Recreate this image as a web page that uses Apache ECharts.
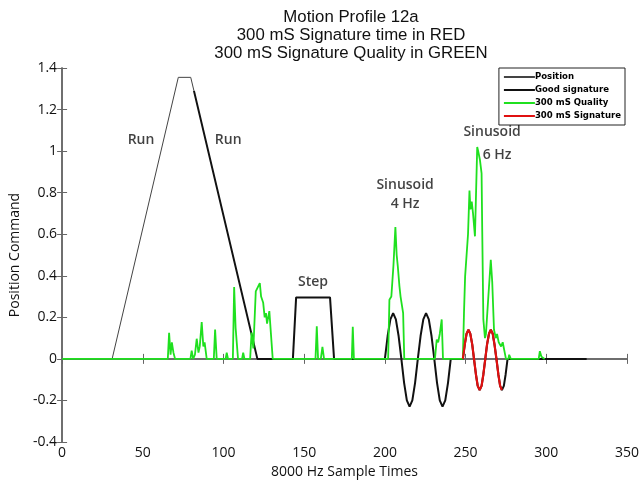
<!DOCTYPE html>
<html><head><meta charset="utf-8">
<script src="https://cdn.jsdelivr.net/npm/echarts@6/dist/echarts.min.js"></script>
<style>html,body{margin:0;padding:0;background:#fff}#c{width:644px;height:487px}</style>
</head><body><div id="c"></div>
<script>
// ---- data ----
const xTicks = [0, 50, 100, 150, 200, 250, 300, 350];
const yTicks = [-0.4, -0.2, 0, 0.2, 0.4, 0.6, 0.8, 1, 1.2, 1.4];

const positionX = [0, 31, 72, 79.7, 81.7];
const positionY = [0, 0, 1.355, 1.355, 1.29];

const goodX = [81.7, 121, 143, 145, 166, 168.5, 200,
  201.7, 203.4, 205.1, 206.8, 208.5, 210.2, 211.9, 213.6, 215.3, 217, 218.7, 220.4,
  222.1, 223.8, 225.5, 227.2, 228.9, 230.6, 232.3, 234, 235.7, 237.4, 239.1, 240.8,
  248.3, 249.5, 250.6, 251.8, 252.9, 254.1, 255.2, 256.4, 257.5, 258.7, 259.9, 261, 262.2,
  263.3, 264.5, 265.6, 266.8, 267.9, 269.1, 270.3, 271.4, 272.5, 273.7, 274.8, 276, 325];
const goodY = [1.29, 0, 0, 0.296, 0.296, 0, 0,
  0.11, 0.19, 0.22, 0.19, 0.11, 0, -0.115, -0.2, -0.23, -0.2, -0.115, 0,
  0.11, 0.19, 0.22, 0.19, 0.11, 0, -0.115, -0.2, -0.23, -0.2, -0.115, 0,
  0, 0.07, 0.121, 0.14, 0.121, 0.07, 0, -0.075, -0.13, -0.15, -0.13, -0.075, 0,
  0.07, 0.121, 0.14, 0.121, 0.07, 0, -0.075, -0.13, -0.15, -0.13, -0.075, 0, 0];

const redX = [248.3, 249.5, 250.6, 251.8, 252.9, 254.1, 255.2, 256.4, 257.5, 258.7, 259.9, 261, 262.2,
  263.3, 264.5, 265.6, 266.8, 267.9, 269.1, 270.3, 271.4, 272.5];
const redY = [0, 0.07, 0.121, 0.14, 0.121, 0.07, 0, -0.075, -0.13, -0.15, -0.13, -0.075, 0,
  0.07, 0.121, 0.14, 0.121, 0.07, 0, -0.075, -0.13, -0.15];

const qualityX = [0, 65.5, 66.3, 67.2, 68, 69, 70, 79.5, 80.3, 81.2, 82.3, 83.4, 84.5, 85.3, 86.5, 87.5, 88.3, 89.6,
  94, 94.8, 95.8, 101.3, 102, 102.8, 105.8, 106.6, 107.5, 109, 111.5, 112.2, 113,
  116.5, 117.4, 118.5, 120, 122.5, 123.3, 124.6, 125.5, 126.3, 127, 128.4, 130.5,
  157, 157.8, 158.6, 160.3, 161.3, 162.3, 179.5, 180.1, 180.8,
  202, 202.8, 204, 205.3, 206.5, 207.3, 208, 209, 209.7, 211.3, 212,
  231, 232.1, 233, 234, 235.2, 236,
  248.3, 249, 249.7, 250.5, 251.5, 252.4, 253, 253.8, 254.6, 255.8, 257.2, 257.8, 258.9, 259.9, 260.3,
  261, 262, 262.6, 264.1, 265.6, 266.5, 267.6, 268.7, 269.5, 270.5, 272, 273, 275, 276.5, 277, 278,
  295.3, 296, 297, 299];
const qualityY = [0, 0, 0.126, 0.02, 0.08, 0.03, 0, 0, 0.04, 0, 0.02, 0.097, 0.03, 0.06, 0.177, 0.06, 0.08, 0,
  0, 0.141, 0, 0, 0.03, 0, 0, 0.346, 0.15, 0, 0, 0.03, 0,
  0, 0.127, 0.05, 0.325, 0.365, 0.3, 0.27, 0.2, 0.22, 0.17, 0.23, 0,
  0, 0.157, 0, 0, 0.058, 0, 0, 0.154, 0,
  0, 0.285, 0.3, 0.45, 0.634, 0.5, 0.445, 0.35, 0.3, 0.22, 0,
  0, 0.093, 0.08, 0.12, 0.19, 0,
  0, 0.22, 0.397, 0.4, 0.6, 0.81, 0.72, 0.757, 0.7, 0.59, 1.02, 1.0, 0.957, 0.893, 0.62,
  0.19, 0.1, 0.12, 0.3, 0.477, 0.37, 0.14, 0.1, 0.12, 0.08, 0.06, 0.08, 0, 0, 0.02, 0,
  0, 0.037, 0.01, 0];

const annoX = [48.9, 102.9, 155.5, 212.5, 212.5, 266.4, 269.5];
const annoY = [1.053, 1.053, 0.372, 0.835, 0.745, 1.09, 0.98];
const annoText = ['Run', 'Run', 'Step', 'Sinusoid', '4 Hz', 'Sinusoid', '6 Hz'];

const seriesNames = ['Position', 'Good signature', '300 mS Quality', '300 mS Signature'];
const titleLines = ['Motion Profile 12a', '300 mS Signature time in RED', '300 mS Signature Quality in GREEN'];

// ---- build ----
const zip = (xs, ys) => xs.map((x, i) => [x, ys[i]]);
const FONT = "'Open Sans', 'DejaVu Sans', sans-serif";
const chart = echarts.init(document.getElementById('c'), null, {renderer: 'canvas'});
const axisCommon = {
  axisLine: {show: true, lineStyle: {color: '#666', width: 1.5}},
  axisTick: {show: true, inside: true, length: 5, lineStyle: {color: '#666'}},
  splitLine: {show: false}
};
chart.setOption({
  animation: false,
  backgroundColor: '#fff',
  title: {
    text: titleLines.join('\n'),
    left: 346, top: 3, textAlign: 'center',
    textStyle: {fontFamily: "'Liberation Sans', Arial, sans-serif", fontSize: 16.8, fontWeight: 'normal', color: '#111', lineHeight: 18}
  },
  grid: {left: 62, right: 17, top: 68, bottom: 45},
  legend: {
    data: seriesNames,
    orient: 'vertical', right: 19, top: 68,
    itemGap: 3, itemWidth: 31, itemHeight: 2, icon: 'rect',
    padding: [4, 4, 4, 5],
    borderColor: '#222', borderWidth: 1, backgroundColor: '#fff',
    textStyle: {fontFamily: "'DejaVu Sans Condensed', 'DejaVu Sans', sans-serif", fontSize: 9.5, fontWeight: 'bold', color: '#000', padding: [0, 0, 0, -5]}
  },
  xAxis: [
    Object.assign({type: 'value', min: xTicks[0], max: xTicks[xTicks.length - 1], interval: 50,
      name: '8000 Hz Sample Times', nameLocation: 'middle', nameGap: 22,
      nameTextStyle: {fontFamily: FONT, fontSize: 14, color: '#111'},
      axisLabel: {fontFamily: FONT, fontSize: 14, color: '#111', margin: 4}}, axisCommon),
    Object.assign({type: 'value', position: 'top', min: xTicks[0], max: xTicks[xTicks.length - 1], interval: 50,
      axisLabel: {show: false}}, axisCommon)
  ],
  yAxis: [
    Object.assign({type: 'value', min: yTicks[0], max: yTicks[yTicks.length - 1], interval: 0.2,
      name: 'Position Command', nameLocation: 'middle', nameGap: 31, nameRotate: 90,
      nameTextStyle: {fontFamily: FONT, fontSize: 14, color: '#111'},
      axisLabel: {fontFamily: FONT, fontSize: 14, color: '#111', margin: 5,
        formatter: v => String(Math.round(v * 10) / 10)}}, axisCommon),
    Object.assign({type: 'value', position: 'right', min: yTicks[0], max: yTicks[yTicks.length - 1], interval: 0.2,
      axisLabel: {show: false}}, axisCommon)
  ],
  series: [
    {name: seriesNames[0], type: 'line', data: zip(positionX, positionY), symbol: 'none',
      lineStyle: {color: '#444', width: 1}, itemStyle: {color: '#444'}, z: 2},
    {name: seriesNames[1], type: 'line', data: zip(goodX, goodY), symbol: 'none',
      lineStyle: {color: '#111', width: 2}, itemStyle: {color: '#111'}, z: 3},
    {name: seriesNames[2], type: 'line', data: zip(qualityX, qualityY), symbol: 'none',
      lineStyle: {color: '#1fe01f', width: 1.8}, itemStyle: {color: '#1fe01f'}, z: 4},
    {name: seriesNames[3], type: 'line', data: zip(redX, redY), symbol: 'none',
      lineStyle: {color: '#e01010', width: 2.2}, itemStyle: {color: '#e01010'}, z: 5},
    {name: 'labels', type: 'scatter', data: annoX.map((x, i) => [x, annoY[i], annoText[i]]),
      symbolSize: 0, silent: true, z: 6,
      label: {show: true, position: 'inside', formatter: p => p.data[2],
        fontFamily: FONT, fontSize: 14, fontWeight: 600, color: '#111'}}
  ]
});
</script></body></html>
